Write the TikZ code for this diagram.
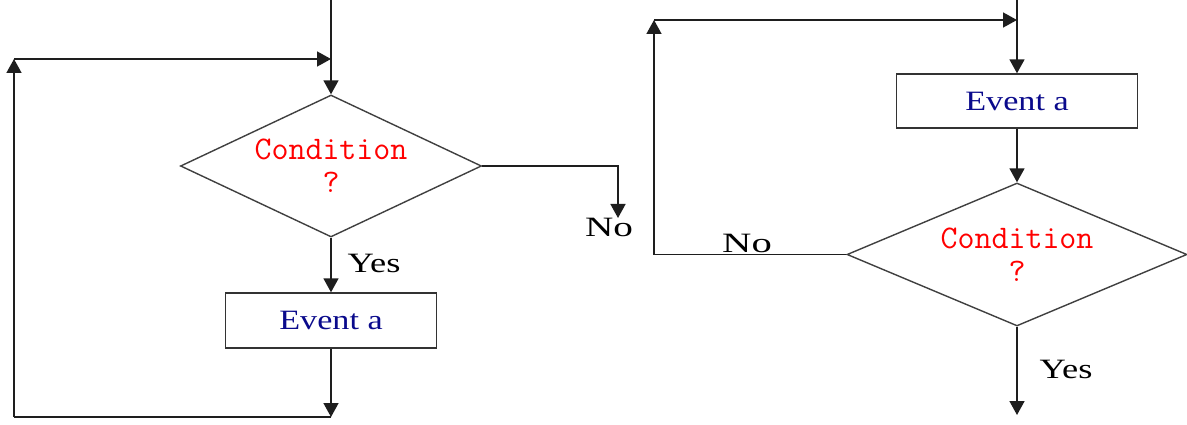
\documentclass[tikz,border=0pt]{standalone}
\usepackage{fontspec}
\usepackage{graphicx}
\setmainfont{Liberation Serif}
\usetikzlibrary{arrows.meta,shapes.geometric}
\definecolor{evblue}{RGB}{10,10,140}
\definecolor{lnc}{RGB}{30,30,30}
\begin{document}
\begin{tikzpicture}[x=1pt,y=-1pt,
  line/.style={draw=lnc, line width=1.6pt},
  arr/.style={line, -{Triangle[width=15pt,length=14pt]}},
  dec/.style={diamond, draw=black!75, line width=1.4pt, inner sep=0pt, align=center,
    font=\ttfamily\fontsize{33}{33}\selectfont, text=red},
  evbox/.style={rectangle, draw=black!80, line width=1.4pt, inner sep=0pt,
    font=\fontsize{28}{30}\selectfont, text=evblue},
  lab/.style={inner sep=0pt, font=\fontsize{28}{30}\selectfont, text=black}
 ]
\useasboundingbox (0,0) rectangle (1187,425);
\fill[white] (0,0) rectangle (1187,425);

% ---------- left diagram ----------
\node[dec, shape aspect=2.12, minimum width=301pt, minimum height=142pt] (Ld) at (331,166) {Condition\\?};
\node[evbox, minimum width=211pt, minimum height=55pt] (Lb) at (331,320.5) {\scalebox{1.22}[1]{Event a}};
\coordinate (Ltop) at (331,0);
\coordinate (Ljoin) at (331,59);
\coordinate (Ltl) at (14,59);
\coordinate (Lbl) at (14,417);
\coordinate (Lbot) at (331,417);
\coordinate (Lno) at (618,218);

\draw[line] (Ltop) -- (Ljoin);
\draw[arr] (Ljoin) -- (Ld.north);
\draw[arr] (Ld.south) -- (Lb.north);
\draw[arr] (Lb.south) -- (Lbot);
\draw[line] (Lbot) -- (Lbl);
\draw[arr] (Lbl) -- (Ltl);
\draw[arr] (Ltl) -- (Ljoin);
\draw[arr] (Ld.east) -| (Lno);

\node[lab] (Lyes) at (374,263) {\scalebox{1.3}[1]{Yes}};
\node[lab] (Lnol) at (609,227) {\scalebox{1.4}[1]{No}};

% ---------- right diagram ----------
\node[evbox, minimum width=241pt, minimum height=54pt] (Rb) at (1017,101) {\scalebox{1.22}[1]{Event a}};
\node[dec, shape aspect=2.38, minimum width=340pt, minimum height=143pt] (Rd) at (1017,254.5) {Condition\\?};
\coordinate (Rtop) at (1017,0);
\coordinate (Rjoin) at (1017,20);
\coordinate (Rtl) at (654,20);
\coordinate (Rbl) at (654,254.5);
\coordinate (Rbot) at (1017,415);

\draw[line] (Rtop) -- (Rjoin);
\draw[arr] (Rjoin) -- (Rb.north);
\draw[arr] (Rb.south) -- (Rd.north);
\draw[line] (Rd.west) -- (Rbl);
\draw[arr] (Rbl) -- (Rtl);
\draw[arr] (Rtl) -- (Rjoin);
\draw[arr] (Rd.south) -- (Rbot);

\node[lab] (Rnol) at (747,243) {\scalebox{1.45}[1]{No}};
\node[lab] (Ryes) at (1066,369) {\scalebox{1.3}[1]{Yes}};
\end{tikzpicture}
\end{document}
